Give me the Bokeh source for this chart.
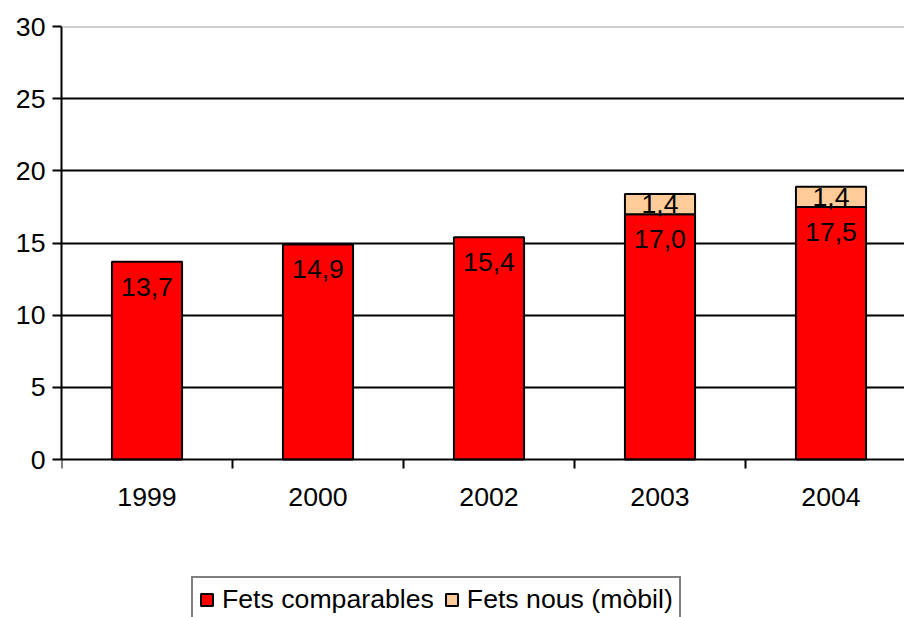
from bokeh.plotting import figure
from bokeh.models import (Range1d, FixedTicker, Legend, LegendItem, Span,
                          ColumnDataSource)
from bokeh.core.properties import value
from bokeh.embed import file_html
from bokeh.resources import INLINE

# ---- data ----
categories = ["1999", "2000", "2002", "2003", "2004"]
fets_comparables = [13.7, 14.9, 15.4, 17.0, 17.5]
fets_nous = [0.0, 0.0, 0.0, 1.4, 1.4]
y_ticks = [0, 5, 10, 15, 20, 25, 30]

FONT = "Liberation Sans"
FS = "26.67px"
RED = "#ff0000"
PEACH = "#ffcc99"

W, H = 904, 617
LEFT, TOP = 61, 26
AXIS_Y = 459           # pixel row of the value 0
frame_w = W - LEFT
cat_px = 171.0
px_per_unit = (AXIS_Y - TOP) / 30.0
y_start = -(H - AXIS_Y) / px_per_unit

p = figure(width=W, height=H, output_backend="svg", toolbar_location=None,
           x_range=Range1d(0, frame_w / cat_px), y_range=Range1d(y_start, 30),
           min_border_left=LEFT, min_border_right=0, min_border_top=TOP,
           min_border_bottom=0)
p.outline_line_color = None
p.background_fill_color = "white"
p.border_fill_color = "white"

xs = [i + 0.5 for i in range(len(categories))]

src = ColumnDataSource(dict(
    x=xs, top=fets_comparables,
    label=[f"{v:.1f}".replace(".", ",") for v in fets_comparables]))
r1 = p.vbar(x="x", top="top", width=0.41, source=src, fill_color=RED,
            line_color="black", line_width=2)

nx, nb, nt, nl, ny = [], [], [], [], []
for x, b, n in zip(xs, fets_comparables, fets_nous):
    if n > 0:
        nx.append(x); nb.append(b); nt.append(b + n)
        nl.append(f"{n:.1f}".replace(".", ","))
        ny.append(b + n / 2)
src2 = ColumnDataSource(dict(x=nx, bottom=nb, top=nt, label=nl, y=ny))
r2 = p.vbar(x="x", bottom="bottom", top="top", width=0.41, source=src2,
            fill_color=PEACH, line_color="black", line_width=2)

p.text(x="x", y="top", text="label", source=src, y_offset=25,
       text_align="center", text_baseline="middle",
       text_font=value(FONT), text_font_size=FS, text_color="black")
p.text(x="x", y="y", text="label", source=src2,
       text_align="center", text_baseline="middle",
       text_font=value(FONT), text_font_size=FS, text_color="black")

# grid
p.xgrid.visible = False
p.ygrid.ticker = FixedTicker(ticks=[t for t in y_ticks if 0 < t < 30])
p.ygrid.grid_line_color = "black"
p.ygrid.grid_line_width = 2
p.add_layout(Span(location=30, dimension="width", line_color="#a0a0a0",
                  line_width=2))

# y axis
p.yaxis.ticker = FixedTicker(ticks=y_ticks)
p.yaxis.bounds = (0, 30)
p.yaxis.axis_line_color = "black"
p.yaxis.axis_line_width = 2
p.yaxis.major_tick_line_color = "black"
p.yaxis.major_tick_line_width = 2
p.yaxis.major_tick_out = 9
p.yaxis.major_tick_in = 0
p.yaxis.minor_tick_line_color = None
p.yaxis.major_label_standoff = 7
p.yaxis.major_label_text_font = FONT
p.yaxis.major_label_text_font_size = FS
p.yaxis.major_label_text_color = "black"

# x axis (drawn at value 0)
p.xaxis.fixed_location = 0
p.xaxis.ticker = FixedTicker(ticks=xs, minor_ticks=list(range(len(categories))))
p.xaxis.major_label_overrides = {x: c for x, c in zip(xs, categories)}
p.xaxis.axis_line_color = "black"
p.xaxis.axis_line_width = 2
p.xaxis.major_tick_line_color = None
p.xaxis.major_tick_out = 0
p.xaxis.major_tick_in = 0
p.xaxis.minor_tick_line_color = "black"
p.xaxis.minor_tick_line_width = 2
p.xaxis.minor_tick_out = 9
p.xaxis.minor_tick_in = 0
p.xaxis.major_label_standoff = 19
p.xaxis.major_label_text_font = FONT
p.xaxis.major_label_text_font_size = FS
p.xaxis.major_label_text_color = "black"

legend = Legend(items=[LegendItem(label="Fets comparables", renderers=[r1]),
                       LegendItem(label="Fets nous (mòbil)", renderers=[r2])],
                orientation="horizontal", location=(130, -6))
legend.label_text_font = FONT
legend.label_text_font_size = FS
legend.label_text_color = "black"
legend.glyph_width = 15
legend.glyph_height = 15
legend.label_standoff = 8
legend.spacing = 10
legend.padding = 6
legend.margin = 0
legend.border_line_color = "black"
legend.border_line_width = 2
legend.background_fill_color = "white"
legend.background_fill_alpha = 1
p.add_layout(legend)

open("out.html", "w").write(file_html(p, INLINE))
